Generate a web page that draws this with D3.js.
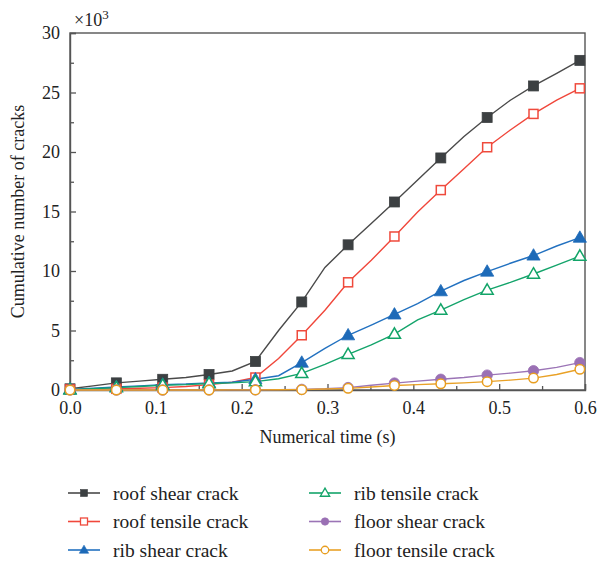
<!DOCTYPE html>
<html>
<head>
<meta charset="utf-8">
<script src="https://cdn.jsdelivr.net/npm/d3@7"></script>
<style>
  html, body { margin: 0; padding: 0; background: #fff; }
  svg { display: block; }
  svg text { font-family: "Liberation Serif", "DejaVu Serif", "Noto Serif", "Times New Roman", serif; }
</style>
</head>
<body>
<svg id="chart" width="599" height="563"></svg>
<script>
// Sampling step of the simulation output (s); markers sit on every other sample
const timeStep = 0.027;

// Cumulative crack counts (x10^3) per sample
const roofShear   = [0.1, 0.35, 0.6, 0.75, 0.9, 1.05, 1.3, 1.6, 2.4, 5.0, 7.4, 10.3, 12.2, 14.0, 15.8, 17.65, 19.5, 21.3, 22.9, 24.35, 25.55, 26.6, 27.7];
const roofTensile = [0.05, 0.05, 0.1, 0.15, 0.2, 0.3, 0.45, 0.65, 1.05, 2.65, 4.6, 6.7, 9.05, 10.9, 12.9, 14.95, 16.8, 18.6, 20.4, 21.85, 23.2, 24.35, 25.35];
const ribShear    = [0.05, 0.15, 0.25, 0.35, 0.45, 0.5, 0.6, 0.65, 0.9, 1.2, 2.3, 3.5, 4.6, 5.45, 6.35, 7.25, 8.3, 9.2, 9.95, 10.65, 11.3, 12.1, 12.8];
const ribTensile  = [0.02, 0.1, 0.2, 0.3, 0.4, 0.45, 0.55, 0.6, 0.7, 0.95, 1.4, 2.15, 3.0, 3.8, 4.7, 5.9, 6.72, 7.6, 8.4, 9.05, 9.75, 10.5, 11.25];
const floorShear  = [0.0, 0.0, 0.0, 0.0, 0.0, 0.0, 0.01, 0.01, 0.02, 0.03, 0.05, 0.1, 0.2, 0.4, 0.58, 0.75, 0.9, 1.05, 1.25, 1.42, 1.62, 1.9, 2.3];
const floorTensile= [0.0, 0.0, 0.0, 0.0, 0.0, 0.0, 0.0, 0.01, 0.01, 0.02, 0.03, 0.08, 0.14, 0.25, 0.38, 0.45, 0.52, 0.6, 0.7, 0.83, 1.0, 1.3, 1.74];

const seriesNames = ["roof shear crack", "roof tensile crack", "rib shear crack",
                     "rib tensile crack", "floor shear crack", "floor tensile crack"];
const seriesValues = [roofShear, roofTensile, ribShear, ribTensile, floorShear, floorTensile];

const xTicks = [0.0, 0.1, 0.2, 0.3, 0.4, 0.5, 0.6];
const yTicks = [0, 5, 10, 15, 20, 25, 30];

// Visual style for each series: line colour, marker shape and fill
const styles = [
  { line: "#4a4a4a", color: "#3c4042", shape: "square",   filled: true  },
  { line: "#f0473b", color: "#ef4a3c", shape: "square",   filled: false },
  { line: "#2271c0", color: "#1d6ab8", shape: "triangle", filled: true  },
  { line: "#14a46b", color: "#12a468", shape: "triangle", filled: false },
  { line: "#9b74b6", color: "#9a70b4", shape: "circle",   filled: true  },
  { line: "#e9a126", color: "#e89e20", shape: "circle",   filled: false }
];

const FONT = "'Liberation Serif', 'DejaVu Serif', 'Noto Serif', serif";
const textColor = "#222";

const svg = d3.select("#chart");
const margin = { left: 70, top: 33, right: 14, bottom: 173 };
const W = 599, H = 563;
const x = d3.scaleLinear().domain([0, 0.6]).range([margin.left, W - margin.right]);
const y = d3.scaleLinear().domain([0, 30]).range([H - margin.bottom, margin.top]);

const axisColor = "#555";

// Plot box
svg.append("rect")
  .attr("x", x(0)).attr("y", y(30))
  .attr("width", x(0.6) - x(0)).attr("height", y(0) - y(30))
  .attr("fill", "none").attr("stroke", axisColor).attr("stroke-width", 1.4);

// Major and minor ticks, all pointing into the plot
const xMinor = d3.range(0.05, 0.6, 0.1);
const yMinor = d3.range(2.5, 30, 5);
svg.append("g").attr("transform", `translate(0,${y(0)})`)
  .call(d3.axisBottom(x).tickValues(xTicks).tickFormat(d3.format(".1f")).tickSize(-6).tickPadding(11));
svg.append("g").attr("transform", `translate(0,${y(0)})`)
  .call(d3.axisBottom(x).tickValues(xMinor).tickFormat("").tickSize(-4))
  .call(g => g.select(".domain").remove());
svg.append("g").attr("transform", `translate(${x(0)},0)`)
  .call(d3.axisLeft(y).tickValues(yTicks).tickFormat(d3.format("d")).tickSize(-6).tickPadding(10));
svg.append("g").attr("transform", `translate(${x(0)},0)`)
  .call(d3.axisLeft(y).tickValues(yMinor).tickFormat("").tickSize(-4))
  .call(g => g.select(".domain").remove());

svg.selectAll("g").attr("font-family", FONT);
svg.selectAll(".domain").attr("stroke", axisColor).attr("stroke-width", 1.4);
svg.selectAll(".tick line").attr("stroke", axisColor).attr("stroke-width", 1.3);
svg.selectAll(".tick text").attr("fill", textColor)
  .attr("font-family", FONT).attr("font-size", 18);

// Axis titles and multiplier
svg.append("text")
  .attr("x", (x(0) + x(0.6)) / 2).attr("y", 443)
  .attr("text-anchor", "middle").attr("fill", textColor)
  .attr("font-family", FONT).attr("font-size", 18)
  .text("Numerical time (s)");
svg.append("text")
  .attr("transform", `translate(24,${(y(0) + y(30)) / 2}) rotate(-90)`)
  .attr("text-anchor", "middle").attr("fill", textColor)
  .attr("font-family", FONT).attr("font-size", 18)
  .text("Cumulative number of cracks");
const mult = svg.append("text").attr("x", 74).attr("y", 26).attr("fill", textColor)
  .attr("font-family", FONT).attr("font-size", 18);
mult.append("tspan").text("×10");
mult.append("tspan").attr("dy", -7).attr("font-size", 13).text("3");

// Marker drawing helper
function drawMarker(g, shape, size) {
  if (shape === "square") {
    return g.append("rect").attr("x", -size / 2).attr("y", -size / 2).attr("width", size).attr("height", size);
  }
  if (shape === "triangle") {
    const h = size * 0.95, w = size * 1.1;
    return g.append("path").attr("d", `M0,${-h * 0.6}L${w / 2},${h * 0.4}L${-w / 2},${h * 0.4}Z`);
  }
  return g.append("circle").attr("r", size / 2);
}

const line = d3.line().x(d => x(d.t)).y(d => y(d.v));
const plot = svg.append("g");

seriesValues.forEach((vals, i) => {
  const st = styles[i];
  const pts = vals.map((v, k) => ({ t: k * timeStep, v: v, k: k }));
  plot.append("path").datum(pts)
    .attr("d", line).attr("fill", "none")
    .attr("stroke", st.line).attr("stroke-width", 1.4);
});

seriesValues.forEach((vals, i) => {
  const st = styles[i];
  const pts = vals.map((v, k) => ({ t: k * timeStep, v: v, k: k })).filter(d => d.k % 2 === 0);
  const size = st.shape === "square" ? 10 : st.shape === "triangle" ? 12 : 10.5;
  pts.forEach(d => {
    const g = plot.append("g").attr("transform", `translate(${x(d.t)},${y(d.v)})`);
    drawMarker(g, st.shape, st.filled ? size : size - 1)
      .attr("fill", st.filled ? st.color : "#fff")
      .attr("stroke", st.color).attr("stroke-width", st.filled ? 0.8 : 1.5);
  });
});

// Legend: two columns of three entries
const legend = svg.append("g");
seriesNames.forEach((name, i) => {
  const st = styles[i];
  const col = Math.floor(i / 3), row = i % 3;
  const lx = col === 0 ? 68 : 309;
  const ly = 493 + row * 28.5;
  const g = legend.append("g").attr("transform", `translate(${lx},${ly})`);
  g.append("line").attr("x1", 0).attr("x2", 32).attr("y1", 0).attr("y2", 0)
    .attr("stroke", st.line).attr("stroke-width", 1.6);
  const mg = g.append("g").attr("transform", "translate(16,0)");
  const size = st.shape === "square" ? 7 : st.shape === "triangle" ? 8.5 : 7.5;
  drawMarker(mg, st.shape, size)
    .attr("fill", st.filled ? st.color : "#fff")
    .attr("stroke", st.color).attr("stroke-width", st.filled ? 0.6 : 1.3);
  g.append("text").attr("x", 45).attr("y", 6.5).attr("fill", textColor)
    .attr("font-family", FONT).attr("font-size", 19.5).text(name);
});
</script>
</body>
</html>
